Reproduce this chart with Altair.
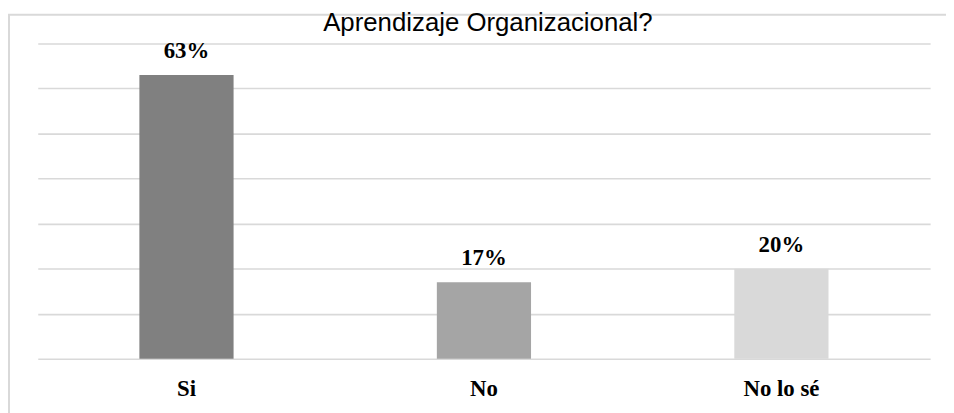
import altair as alt
import pandas as pd

categories = ["Si", "No", "No lo sé"]
values = [0.63, 0.17, 0.20]
labels = ["63%", "17%", "20%"]
colors = ["#808080", "#a5a5a5", "#d9d9d9"]
title_text = "Aprendizaje Organizacional?"

df = pd.DataFrame({"cat": categories, "val": values, "lab": labels})

x = alt.X("cat:N", sort=categories, title=None,
          scale=alt.Scale(paddingInner=0, paddingOuter=0),
          axis=alt.Axis(labelAngle=0, domain=False, ticks=False, grid=False, labelPadding=19,
                        labelFont="Liberation Serif", labelFontWeight="bold",
                        labelFontSize=23, labelColor="#000000"))
y = alt.Y("val:Q", title=None,
          scale=alt.Scale(domain=[0, 0.7], nice=False),
          axis=alt.Axis(values=[0, 0.1, 0.2, 0.3, 0.4, 0.5, 0.6, 0.7], labels=False,
                        domain=False, ticks=False, grid=True,
                        gridColor="#d9d9d9", gridWidth=1.6))

bars = alt.Chart(df).mark_bar(size=95).encode(
    x=x, y=y,
    color=alt.Color("cat:N", sort=categories,
                    scale=alt.Scale(domain=categories, range=colors), legend=None),
)

text = alt.Chart(df).mark_text(dy=-17, baseline="alphabetic", font="Liberation Serif",
                               fontWeight="bold", fontSize=23, color="#000000").encode(
    x=alt.X("cat:N", sort=categories), y="val:Q", text="lab:N")

title = alt.Chart(pd.DataFrame({"t": [title_text]})).mark_text(
    font="Liberation Sans", fontSize=26, color="#000000", baseline="alphabetic",
    align="center").encode(text="t:N", x=alt.value(454), y=alt.value(-13))

border_left = alt.Chart(pd.DataFrame({"a": [0]})).mark_rule(
    color="#d9d9d9", strokeWidth=2).encode(
    x=alt.value(-29), y=alt.value(-29), y2=alt.value(380))
border_top = alt.Chart(pd.DataFrame({"a": [0]})).mark_rule(
    color="#d9d9d9", strokeWidth=2).encode(
    x=alt.value(-30), x2=alt.value(920), y=alt.value(-29))

chart = alt.layer(border_left, border_top, bars, text, title).properties(
    width=900, height=318,
    background="#ffffff",
    autosize=alt.AutoSizeParams(type="none"),
    padding={"left": 30, "top": 34, "right": 16, "bottom": 53},
).configure_view(strokeWidth=0, stroke="transparent")

chart.save("out.html", embed_options={"renderer": "svg", "actions": False})
